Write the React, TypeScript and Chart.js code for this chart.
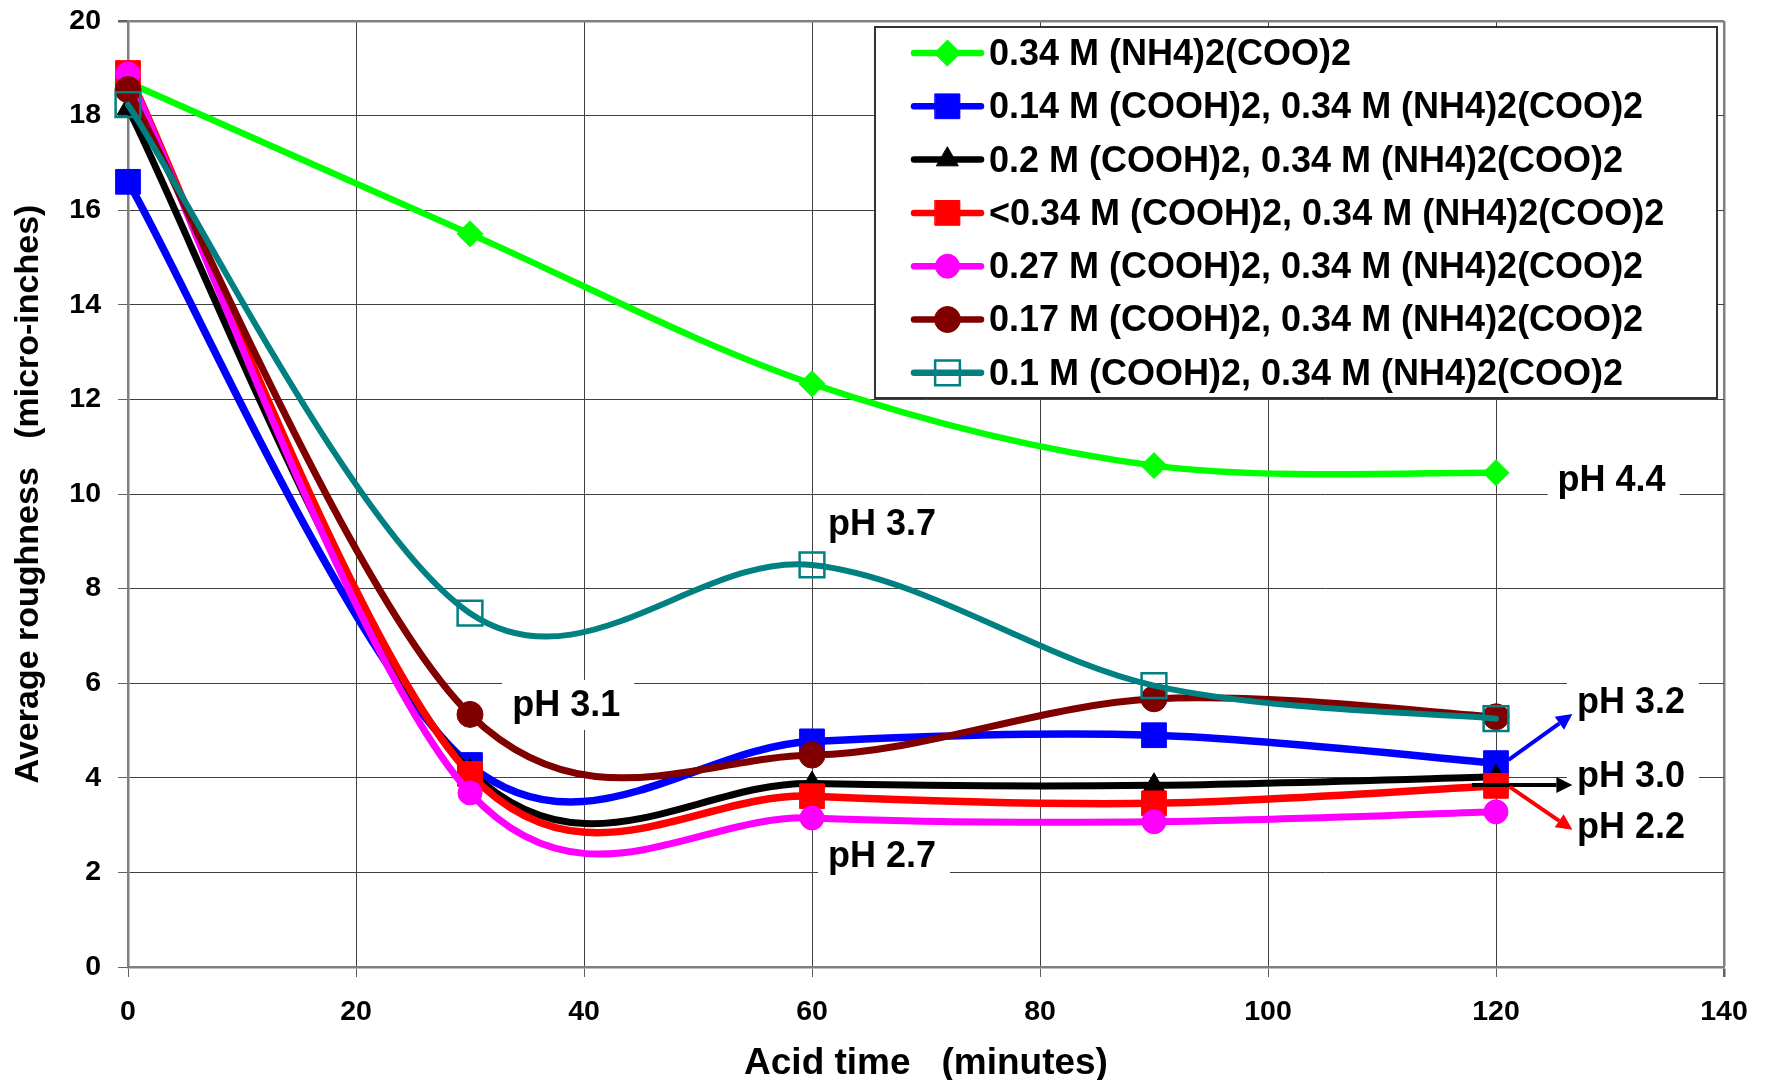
import React, { useEffect, useRef } from 'react';
import { Chart, registerables } from 'chart.js';
import { drawPoint } from 'chart.js/helpers';

Chart.register(...registerables);

// ---------- data ----------
const times = [0, 30, 60, 90, 120];

const seriesLabels = [
  '0.34 M (NH4)2(COO)2',
  '0.14 M (COOH)2, 0.34 M (NH4)2(COO)2',
  '0.2 M (COOH)2, 0.34 M (NH4)2(COO)2',
  '<0.34 M (COOH)2, 0.34 M (NH4)2(COO)2',
  '0.27 M (COOH)2, 0.34 M (NH4)2(COO)2',
  '0.17 M (COOH)2, 0.34 M (NH4)2(COO)2',
  '0.1 M (COOH)2, 0.34 M (NH4)2(COO)2',
];

const ammoniumOnly = [18.7, 15.5, 12.33, 10.6, 10.45];
const oxalic014 = [16.6, 4.27, 4.77, 4.9, 4.31];
const oxalic020 = [18.15, 4.15, 3.88, 3.84, 4.02];
const oxalicLt034 = [18.9, 4.08, 3.61, 3.46, 3.83];
const oxalic027 = [18.88, 3.68, 3.15, 3.07, 3.28];
const oxalic017 = [18.55, 5.34, 4.48, 5.67, 5.29];
const oxalic010 = [18.23, 7.48, 8.5, 5.95, 5.25];

const seriesValues = [ammoniumOnly, oxalic014, oxalic020, oxalicLt034, oxalic027, oxalic017, oxalic010];

const xMin = 0, xMax = 140, xStep = 20;
const yMin = 0, yMax = 20, yStep = 2;

const xTitle = 'Acid time   (minutes)';
const yTitle = 'Average roughness   (micro-inches)';

// pH annotations (text left x, text center y in data units)
const phLabels = ['pH 4.4', 'pH 3.7', 'pH 3.1', 'pH 2.7', 'pH 3.2', 'pH 3.0', 'pH 2.2'];
const phX = [125.4, 61.4, 33.7, 61.4, 127.1, 127.1, 127.1];
const phY = [10.27, 9.34, 5.52, 2.33, 5.59, 4.02, 2.94];

// arrows pointing to pH labels
const arrowFromX = [121.1, 117.9, 121.2];
const arrowFromY = [4.38, 3.85, 3.81];
const arrowToX = [126.7, 126.7, 126.7];
const arrowToY = [5.35, 3.85, 2.9];

// ---------- styles ----------
const FONT = '"Liberation Sans", Arial, Helvetica, sans-serif';
const colors = ['#00FF00', '#0000FF', '#000000', '#FF0000', '#FF00FF', '#800000', '#008080'];
const lineWidths = [6.5, 7.5, 7, 7.5, 7, 7, 6];
const pointStyles = ['rectRot', 'rect', 'triangle', 'rect', 'circle', 'circle', 'rect'];
const pointRadii = [13, 17.5, 12.5, 17.5, 12, 13, 17.5];
const hollow = [false, false, false, false, false, false, true];
const arrowColors = ['#0000FF', '#000000', '#FF0000'];
const SMOOTH = 1 / 6; // spreadsheet-style (uniform Catmull-Rom) smoothing

// Replace the control points of each line with uniform Catmull-Rom ones
const smoothPlugin = {
  id: 'uniformSmoothing',
  beforeDatasetDraw(chart: any, args: any) {
    const meta = args.meta;
    const line = meta && meta.dataset;
    if (!line) return;
    if (typeof line.updateControlPoints === 'function') {
      line.updateControlPoints(chart.chartArea, 'x');
    }
    const pts = meta.data;
    const n = pts.length;
    for (let i = 0; i < n; i++) {
      const p = pts[i];
      const prev = pts[Math.max(i - 1, 0)];
      const next = pts[Math.min(i + 1, n - 1)];
      const dx = (next.x - prev.x) * SMOOTH;
      const dy = (next.y - prev.y) * SMOOTH;
      p.cp1x = p.x - dx;
      p.cp1y = p.y - dy;
      p.cp2x = p.x + dx;
      p.cp2y = p.y + dy;
    }
    line._path = undefined;
  },
};

const annotationPlugin = {
  id: 'phAnnotations',
  beforeDatasetsDraw(chart: any) {
    const { ctx, scales } = chart;
    const xs = scales.x, ys = scales.y;
    ctx.save();
    ctx.font = `bold 36px ${FONT}`;
    ctx.textBaseline = 'middle';
    ctx.textAlign = 'left';
    phLabels.forEach((t, i) => {
      const px = xs.getPixelForValue(phX[i]);
      const py = ys.getPixelForValue(phY[i]);
      const w = ctx.measureText(t).width;
      ctx.fillStyle = '#FFFFFF';
      ctx.fillRect(px - 10, py - 26, w + 24, 50);
      ctx.fillStyle = '#000000';
      ctx.fillText(t, px, py);
    });
    ctx.restore();
  },
  afterDatasetsDraw(chart: any) {
    const { ctx, scales } = chart;
    const xs = scales.x, ys = scales.y;
    ctx.save();
    arrowFromX.forEach((_, i) => {
      const x1 = xs.getPixelForValue(arrowFromX[i]);
      const y1 = ys.getPixelForValue(arrowFromY[i]);
      const x2 = xs.getPixelForValue(arrowToX[i]);
      const y2 = ys.getPixelForValue(arrowToY[i]);
      const ang = Math.atan2(y2 - y1, x2 - x1);
      const headL = 16, headW = 8;
      const bx = x2 - headL * Math.cos(ang);
      const by = y2 - headL * Math.sin(ang);
      ctx.strokeStyle = arrowColors[i];
      ctx.fillStyle = arrowColors[i];
      ctx.lineWidth = 4;
      ctx.lineCap = 'butt';
      ctx.beginPath();
      ctx.moveTo(x1, y1);
      ctx.lineTo(bx, by);
      ctx.stroke();
      ctx.beginPath();
      ctx.moveTo(x2, y2);
      ctx.lineTo(bx + headW * Math.sin(ang), by - headW * Math.cos(ang));
      ctx.lineTo(bx - headW * Math.sin(ang), by + headW * Math.cos(ang));
      ctx.closePath();
      ctx.fill();
    });

    // legend box
    const L = 875, T = 27, R = 1717, B = 398;
    ctx.fillStyle = '#FFFFFF';
    ctx.fillRect(L, T, R - L, B - T);
    ctx.strokeStyle = '#333333';
    ctx.lineWidth = 2;
    ctx.strokeRect(L, T, R - L, B - T);
    ctx.font = `bold 36px ${FONT}`;
    ctx.textBaseline = 'middle';
    ctx.textAlign = 'left';
    seriesLabels.forEach((lab, i) => {
      const y = 53 + i * 53.3;
      ctx.strokeStyle = colors[i];
      ctx.lineWidth = 6.5;
      ctx.lineCap = 'round';
      ctx.beginPath();
      ctx.moveTo(914, y);
      ctx.lineTo(981, y);
      ctx.stroke();
      ctx.fillStyle = hollow[i] ? 'rgba(0,0,0,0)' : colors[i];
      ctx.strokeStyle = colors[i];
      ctx.lineWidth = hollow[i] ? 2.5 : 1;
      drawPoint(ctx, { pointStyle: pointStyles[i], radius: pointRadii[i], rotation: 0, borderWidth: hollow[i] ? 2.5 : 1 } as any, 947.5, y);
      ctx.fillStyle = '#000000';
      ctx.fillText(lab, 989, y + 2);
    });
    ctx.restore();
  },
};

export default function App() {
  const canvasRef = useRef<HTMLCanvasElement | null>(null);

  useEffect(() => {
    const canvas = canvasRef.current;
    if (!canvas) return;
    const datasets = seriesValues.map((vals, i) => ({
      label: seriesLabels[i],
      data: vals.map((v, k) => ({ x: times[k], y: v })),
      borderColor: colors[i],
      backgroundColor: colors[i],
      borderWidth: lineWidths[i],
      tension: 0.4,
      cubicInterpolationMode: 'default',
      borderCapStyle: 'round',
      borderJoinStyle: 'round',
      pointStyle: pointStyles[i],
      pointRadius: pointRadii[i],
      pointHoverRadius: pointRadii[i],
      pointBackgroundColor: hollow[i] ? 'rgba(0,0,0,0)' : colors[i],
      pointBorderColor: colors[i],
      pointBorderWidth: hollow[i] ? 2.5 : 1,
      fill: false,
      clip: false,
      order: seriesValues.length - 1 - i,
    }));

    const chart = new Chart(canvas, {
      type: 'line',
      data: { datasets } as any,
      plugins: [smoothPlugin, annotationPlugin],
      options: {
        responsive: false,
        animation: false,
        devicePixelRatio: 1,
        layout: { autoPadding: false, padding: { top: 21, right: 42, left: 0, bottom: 0 } },
        plugins: {
          legend: { display: false },
          tooltip: { enabled: false },
        },
        scales: {
          x: {
            type: 'linear',
            min: xMin,
            max: xMax,
            ticks: {
              stepSize: xStep,
              color: '#000000',
              padding: 18,
              font: { family: FONT, size: 28.5, weight: 'bold', lineHeight: 1.2 },
              maxRotation: 0,
            },
            grid: {
              color: (c: any) => (c.tick && c.tick.value === xMax ? '#808080' : '#404040'),
              lineWidth: (c: any) => (c.tick && c.tick.value === xMax ? 2.5 : 1),
              tickLength: 10,
              tickColor: '#606060',
            },
            border: { display: true, color: '#808080', width: 2.5 },
            title: {
              display: true,
              text: xTitle,
              color: '#000000',
              font: { family: FONT, size: 37, weight: 'bold', lineHeight: 0.9 },
              padding: { top: 0, bottom: 0 },
            },
            afterFit: (s: any) => { s.height = 113; s.paddingLeft = 0; s.paddingRight = 0; },
          },
          y: {
            type: 'linear',
            min: yMin,
            max: yMax,
            ticks: {
              stepSize: yStep,
              color: '#000000',
              padding: 17,
              font: { family: FONT, size: 28.5, weight: 'bold', lineHeight: 1.2 },
            },
            grid: {
              color: (c: any) => (c.tick && c.tick.value === yMax ? '#808080' : '#404040'),
              lineWidth: (c: any) => (c.tick && c.tick.value === yMax ? 2.5 : 1),
              tickLength: 10,
              tickColor: '#606060',
            },
            border: { display: true, color: '#808080', width: 2.5 },
            title: {
              display: true,
              text: yTitle,
              color: '#000000',
              font: { family: FONT, size: 34, weight: 'bold', lineHeight: 1 },
              padding: { top: 12, bottom: 0 },
            },
            afterFit: (s: any) => { s.width = 128; s.paddingTop = 0; s.paddingBottom = 0; },
          },
        },
      } as any,
    });
    return () => chart.destroy();
  }, []);

  return (
    <div style={{ position: 'absolute', left: 0, top: 0, width: 1766, height: 1080, background: '#FFFFFF' }}>
      <canvas ref={canvasRef} width={1766} height={1080} style={{ display: 'block' }} />
    </div>
  );
}
